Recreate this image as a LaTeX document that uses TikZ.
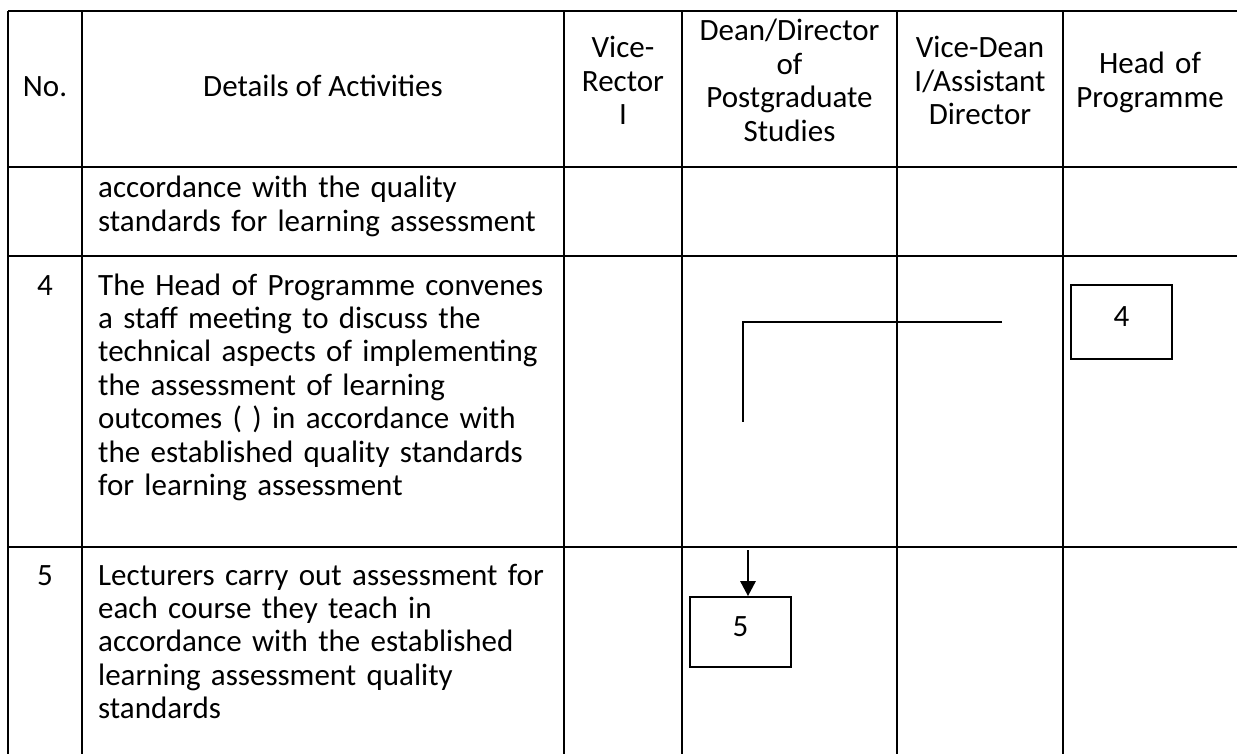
\documentclass[tikz,border=0pt]{standalone}
\usepackage{fontspec}
\setmainfont{Carlito}
\usetikzlibrary{arrows.meta}
\begin{document}
\begin{tikzpicture}[x=1pt,y=-1pt,
  grid/.style={line width=2.8pt, black},
  txt/.style={font=\fontsize{31}{33.4}\selectfont, inner sep=0pt, text=black},
  lefttxt/.style={txt, anchor=base west, text width=470pt, align=left},
  headtxt/.style={txt, anchor=base, text width=200pt, align=center},
  numtxt/.style={txt, anchor=base},
  stepbox/.style={draw, line width=1.7pt, minimum width=101pt, inner sep=0pt,
    font=\fontsize{31}{33}\selectfont, text height=22pt, text depth=12.4pt},
  thinln/.style={line width=1.6pt, black},
  arrowln/.style={line width=2.8pt, black, -{Triangle[width=15pt,length=15pt]}},
]
\useasboundingbox (0,0) rectangle (1237,754);
% table grid
\draw[grid] (8,11) -- (1237,11);
\draw[grid] (8,167) -- (1237,167);
\draw[grid] (8,256) -- (1237,256);
\draw[grid] (8,547) -- (1237,547);
\foreach \x in {8,82,564,682,897,1063} \draw[grid] (\x,11) -- (\x,754);
% header
\node[numtxt] (hno) at (45,97) {No.};
\node[numtxt] (hdet) at (323,97) {Details of Activities};
\node[headtxt] (hvr) at (623,58) {Vice-\\Rector\\I};
\node[headtxt] (hdean) at (789.5,41) {Dean/Director\\of\\Postgraduate\\Studies};
\node[headtxt] (hvd) at (980,58) {Vice-Dean\\I/Assistant\\Director};
\node[headtxt] (hhp) at (1150,74) {Head of\\Programme};
% row 3 (continued)
\node[lefttxt] (r3) at (98,198) {accordance with the quality\\standards for learning assessment};
% row 4
\node[numtxt] (n4) at (45,295) {4};
\node[lefttxt] (r4) at (98,295) {The Head of Programme convenes\\a staff meeting to discuss the\\technical aspects of implementing\\the assessment of learning\\outcomes ( ) in accordance with\\the established quality standards\\for learning assessment};
% row 5
\node[numtxt] (n5) at (45,585) {5};
\node[lefttxt] (r5) at (98,585) {Lecturers carry out assessment for\\each course they teach in\\accordance with the established\\learning assessment quality\\standards};
% flow boxes
\node[stepbox, minimum height=74pt] (box4) at (1121.5,322) {4};
\node[stepbox, minimum height=70pt] (box5) at (740.5,632) {5};
% connectors
\coordinate (l1) at (1002,322);
\coordinate (l2) at (743,322);
\coordinate (l3) at (743,422);
\draw[thinln] (l1) -- (l2) -- (l3);
\coordinate (a5) at (748,550);
\draw[arrowln] (a5) -- (a5 |- box5.north);
\end{tikzpicture}
\end{document}
